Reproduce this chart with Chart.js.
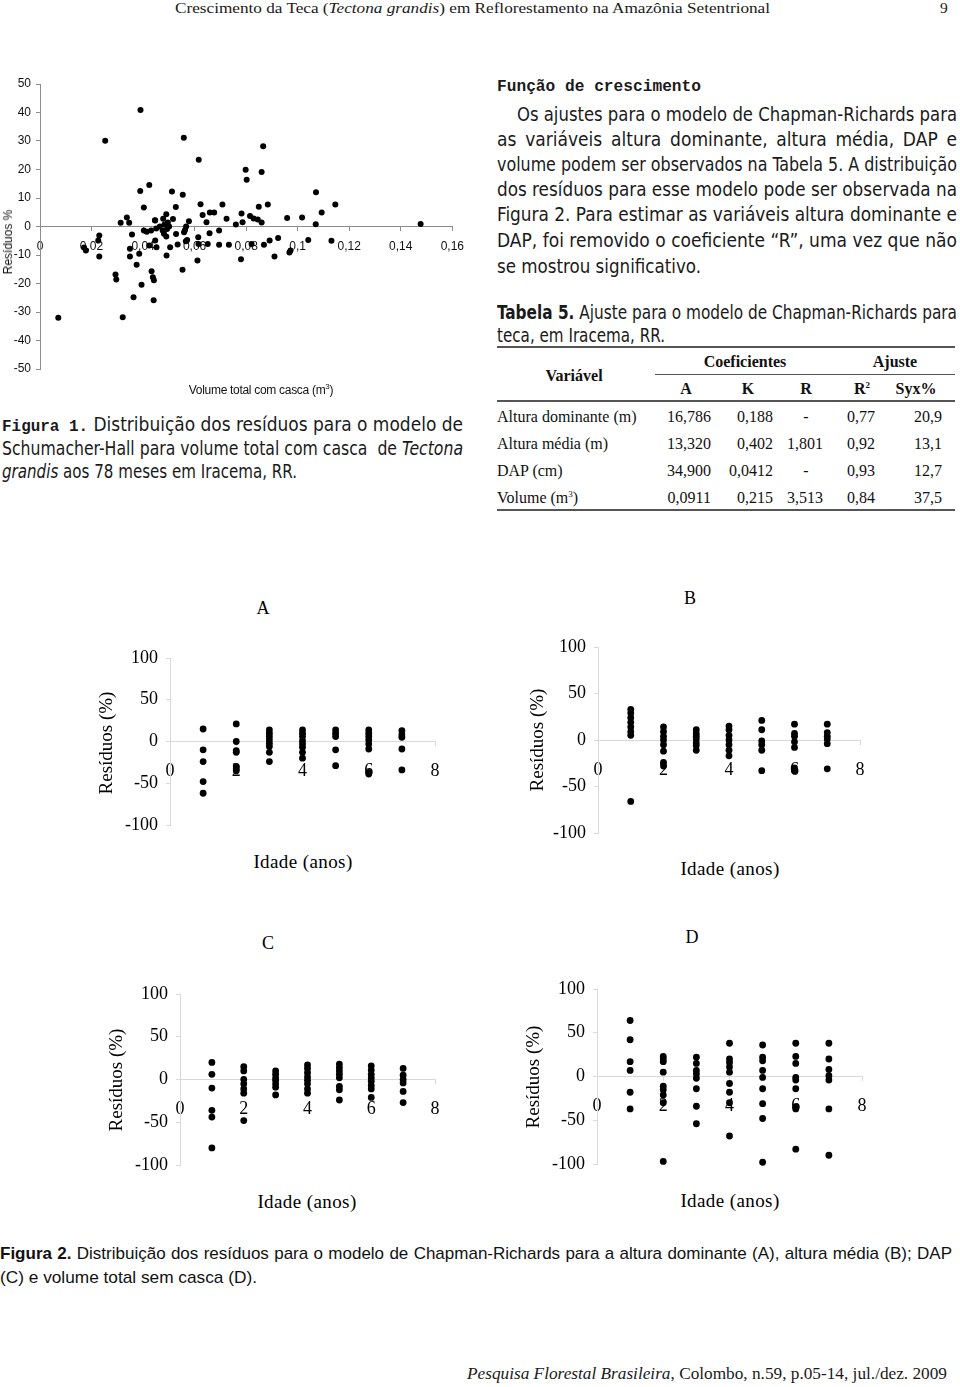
<!DOCTYPE html>
<html lang="pt">
<head>
<meta charset="UTF-8">
<title>Crescimento da Teca - Figuras 1 e 2</title>
<script src="https://cdn.jsdelivr.net/npm/chart.js@4.4.0/dist/chart.umd.min.js"></script>
<style>
    html, body {
        margin: 0;
        padding: 0;
        background: #fff;
    }
    body {
        position: relative;
        width: 960px;
        height: 1387px;
        overflow: hidden;
        color: #1a1a1a;
    }
    canvas { position: absolute; }
    .t {
        position: absolute;
        white-space: nowrap;
        display: inline-block;
        line-height: 1;
        transform-origin: 0 50%;
    }
    .body { font: 19px 'Liberation Sans Narrow', 'DejaVu Sans Condensed', sans-serif; }
    .mono { font-family: 'Liberation Mono', monospace; font-weight: bold; font-size: 16px; }
    .serif { font-family: 'Liberation Serif', serif; }
    .tab { font: 16px 'Liberation Serif', serif; color: #111; }
    .c { transform: translateX(-50%); }
    .r { transform: translateX(-100%); }
    .rot { transform: translate(-50%, -50%) rotate(-90deg); transform-origin: 50% 50%; }
    .rule { position: absolute; height: 1.5px; background: #555; }
    .ax2 { font: 19px 'Liberation Serif', serif; color: #000; }
</style>
</head>
<body>

<!-- cabeçalho -->
<div class="t serif fit" data-w="595" style="left:175px;top:0px;font-size:15.5px">Crescimento da Teca (<i>Tectona grandis</i>) em Reflorestamento na Amazônia Setentrional</div>
<div class="t serif" style="left:940px;top:0px;font-size:15.5px">9</div>

<!-- texto coluna direita -->
<div class="t mono fit" data-w="204" style="left:497px;top:79px">Função de crescimento</div>
<div class="t body fit j" data-w="440" style="left:517px;top:102.5px">Os ajustes para o modelo de Chapman-Richards para</div>
<div class="t body fit j" data-w="460" style="left:497px;top:127.5px">as variáveis altura dominante, altura média, DAP e</div>
<div class="t body fit j" data-w="460" style="left:497px;top:152.5px">volume podem ser observados na Tabela 5. A distribuição</div>
<div class="t body fit j" data-w="460" style="left:497px;top:177.5px">dos resíduos para esse modelo pode ser observada na</div>
<div class="t body fit j" data-w="460" style="left:497px;top:202.5px">Figura 2. Para estimar as variáveis altura dominante e</div>
<div class="t body fit j" data-w="460" style="left:497px;top:228.5px">DAP, foi removido o coeficiente “R”, uma vez que não</div>
<div class="t body fit" data-w="204" style="left:497px;top:254.5px">se mostrou significativo.</div>

<div class="t body fit j" data-w="460" style="left:497px;top:300.5px"><b>Tabela 5.</b> Ajuste para o modelo de Chapman-Richards para</div>
<div class="t body fit" data-w="168" style="left:497px;top:323.5px">teca, em Iracema, RR.</div>

<!-- tabela 5 -->
<div class="rule" style="left:497px;top:346px;width:458px"></div>
<div class="rule" style="left:655px;top:373.5px;width:300px"></div>
<div class="rule" style="left:497px;top:400px;width:458px"></div>
<div class="rule" style="left:497px;top:509px;width:458px"></div>

<div class="t tab c" style="left:745px;top:353px"><b>Coeficientes</b></div>
<div class="t tab c" style="left:895px;top:353px"><b>Ajuste</b></div>
<div class="t tab c" style="left:574px;top:367px"><b>Variável</b></div>
<div class="t tab c" style="left:686px;top:380px"><b>A</b></div>
<div class="t tab c" style="left:748px;top:380px"><b>K</b></div>
<div class="t tab c" style="left:806px;top:380px"><b>R</b></div>
<div class="t tab c" style="left:862px;top:380px"><b>R<sup style="font-size:9px">2</sup></b></div>
<div class="t tab c" style="left:916px;top:380px"><b>Syx%</b></div>

<div class="t tab" style="left:497px;top:408px">Altura dominante (m)</div>
<div class="t tab r" style="left:711px;top:408px">16,786</div>
<div class="t tab r" style="left:773px;top:408px">0,188</div>
<div class="t tab c" style="left:806px;top:408px">-</div>
<div class="t tab c" style="left:861px;top:408px">0,77</div>
<div class="t tab c" style="left:928px;top:408px">20,9</div>

<div class="t tab" style="left:497px;top:435px">Altura média (m)</div>
<div class="t tab r" style="left:711px;top:435px">13,320</div>
<div class="t tab r" style="left:773px;top:435px">0,402</div>
<div class="t tab c" style="left:805px;top:435px">1,801</div>
<div class="t tab c" style="left:861px;top:435px">0,92</div>
<div class="t tab c" style="left:928px;top:435px">13,1</div>

<div class="t tab" style="left:497px;top:462px">DAP (cm)</div>
<div class="t tab r" style="left:711px;top:462px">34,900</div>
<div class="t tab r" style="left:773px;top:462px">0,0412</div>
<div class="t tab c" style="left:806px;top:462px">-</div>
<div class="t tab c" style="left:861px;top:462px">0,93</div>
<div class="t tab c" style="left:928px;top:462px">12,7</div>

<div class="t tab" style="left:497px;top:489px">Volume (m<sup style="font-size:9px">3</sup>)</div>
<div class="t tab r" style="left:711px;top:489px">0,0911</div>
<div class="t tab r" style="left:773px;top:489px">0,215</div>
<div class="t tab c" style="left:805px;top:489px">3,513</div>
<div class="t tab c" style="left:861px;top:489px">0,84</div>
<div class="t tab c" style="left:928px;top:489px">37,5</div>

<!-- figura 1 -->
<canvas id="fig1" width="473" height="325" style="left:0px;top:64px"></canvas>
<div class="t rot" style="left:8px;top:242px;font:12px 'Liberation Sans',sans-serif;color:#111">Resíduos %</div>
<div class="t c" style="left:261px;top:382px;font:12px 'Liberation Sans',sans-serif;color:#111;letter-spacing:-0.3px">Volume total com casca (m<sup style="font-size:8px">3</sup>)</div>

<div class="t body fit j" data-w="461" style="left:2px;top:412.5px"><b class="mono">Figura 1.</b> Distribuição dos resíduos para o modelo de</div>
<div class="t body fit j" data-w="461" style="left:2px;top:436.5px">Schumacher-Hall para volume total com casca&nbsp; de <i>Tectona</i></div>
<div class="t body fit" data-w="295" style="left:2px;top:459.5px"><i>grandis</i> aos 78 meses em Iracema, RR.</div>

<!-- figura 2 -->
<canvas id="figA" width="345" height="207" style="left:110px;top:638px"></canvas>
<canvas id="figB" width="342" height="226" style="left:538px;top:627px"></canvas>
<canvas id="figC" width="335" height="211" style="left:120px;top:974px"></canvas>
<canvas id="figD" width="345" height="215" style="left:537px;top:969px"></canvas>

<div class="t ax2 c" style="left:263px;top:598px;font-size:18px">A</div>
<div class="t ax2 c" style="left:690px;top:588px;font-size:18px">B</div>
<div class="t ax2 c" style="left:268px;top:933px;font-size:18px">C</div>
<div class="t ax2 c" style="left:692px;top:927px;font-size:18px">D</div>

<div class="t ax2 rot" style="left:106px;top:743px">Resíduos (%)</div>
<div class="t ax2 rot" style="left:537px;top:740px">Resíduos (%)</div>
<div class="t ax2 rot" style="left:116px;top:1080px">Resíduos (%)</div>
<div class="t ax2 rot" style="left:533px;top:1077px">Resíduos (%)</div>

<div class="t ax2 c" style="left:303px;top:850.5px;letter-spacing:0.4px">Idade (anos)</div>
<div class="t ax2 c" style="left:730px;top:857.5px;letter-spacing:0.4px">Idade (anos)</div>
<div class="t ax2 c" style="left:307px;top:1190.5px;letter-spacing:0.4px">Idade (anos)</div>
<div class="t ax2 c" style="left:730px;top:1189.5px;letter-spacing:0.4px">Idade (anos)</div>

<div class="t fit j" data-w="952" style="left:0px;top:1243.5px;font:17px 'Liberation Sans',sans-serif;color:#111"><b>Figura 2.</b> Distribuição dos resíduos para o modelo de Chapman-Richards para a altura dominante (A), altura média (B); DAP</div>
<div class="t fit" data-w="257" style="left:0px;top:1267.5px;font:17px 'Liberation Sans',sans-serif;color:#111">(C) e volume total sem casca (D).</div>

<!-- rodapé -->
<div class="t serif fit" data-w="480" style="left:467px;top:1366px;font-size:16px"><i>Pesquisa Florestal Brasileira</i>, Colombo, n.59, p.05-14, jul./dez. 2009</div>

<script>
    // Figura 1: resíduos (%) x volume total com casca (m3)
    const volumes = [
        0.0253, 0.0390, 0.0558, 0.0616, 0.0389, 0.0424, 0.0512, 0.0554, 0.0403, 0.0527,
        0.0623, 0.0708, 0.0313, 0.0337, 0.0346, 0.0446, 0.0490, 0.0478, 0.0516, 0.0578,
        0.0631, 0.0646, 0.0659, 0.0676, 0.0724, 0.0760, 0.0866, 0.0798, 0.0802, 0.0860,
        0.1071, 0.1146, 0.0884, 0.0849, 0.0782, 0.0815, 0.0829, 0.0845, 0.0860, 0.0786,
        0.0959, 0.1017, 0.1093, 0.1070, 0.1477, 0.0447,
        0.0403, 0.0414, 0.0431, 0.0451, 0.0357, 0.0483, 0.0476, 0.0493, 0.0490, 0.0501,
        0.0528, 0.0505, 0.0534, 0.0567, 0.0559, 0.0563, 0.0571, 0.0566, 0.0614, 0.0615,
        0.0611, 0.0658, 0.0651, 0.0695, 0.0695, 0.0733, 0.0780, 0.0869, 0.0891, 0.0910,
        0.0924, 0.0821, 0.1041, 0.1131, 0.0972, 0.0968, 0.0071, 0.0178, 0.0171, 0.0230,
        0.0226, 0.0230, 0.0293, 0.0296, 0.0321, 0.0363, 0.0349, 0.0349, 0.0385, 0.0375,
        0.0394, 0.0433, 0.0438, 0.0442, 0.0441, 0.0491, 0.0553, 0.0452, 0.0424, 0.0447,
        0.0465, 0.0481, 0.0496
    ];
    const residuos = [
        30.1, 40.9, 31.1, 23.4, 12.5, 14.6, 12.3, 11.1, 6.7, 6.8,
        7.8, 7.7, 1.3, 3.2, 1.3, 2.2, 4.3, 2.7, 2.6, 1.8,
        4.0, 1.5, 4.9, 4.9, 2.7, 0.7, 28.2, 19.9, 16.4, 19.1,
        12.0, 7.7, 7.7, 6.9, 4.6, 3.7, 2.8, 2.5, 1.4, 1.5,
        3.0, 3.2, 4.9, 0.8, 0.9, 2.1,
        -1.4, -1.8, -1.4, -0.7, -2.8, 0.7, -1.4, -0.9, -3.5, 0,
        -2.6, -7.3, -6.3, 0, -2.0, -1.2, -4.7, -5.2, -3.8, -6.1,
        -11.9, -2.4, -6.1, -1.4, -6.4, -6.4, -11.5, -6.4, -4.9, -10.5,
        -4.0, -6.1, -4.7, -5.0, -8.4, -9.1, -32.0, -8.4, -7.4, -3.2,
        -4.9, -10.5, -16.8, -18.6, -31.8, -24.8, -10.5, -7.8, -9.6, -13.4,
        -20.4, -15.7, -17.8, -18.9, -25.9, -10.2, -15.2, -7.3, -6.7, -4.9,
        0, -2.5, 1.4
    ];

    // Figura 2: resíduos (%) por idade (anos), um array por idade
    const idades = [1, 2, 3, 4, 5, 6, 7];
    const residA = [
        [15, -10, -24, -48, -62],
        [21, 0, -11, -13, -30, -33, -35],
        [14, 10, 6, 2, -2, -6, -13, -24],
        [14, 10, 6, 1, -3, -7, -13, -20],
        [14, 10, 6, -10, -29],
        [14, 10, 6, 2, -3, -9, -37, -39],
        [13, 8, 5, -9, -34]
    ];
    const residB = [
        [33, 29, 24, 19, 14, 9, 5, -66],
        [14, 9, 4, 0, -5, -12, -24, -28],
        [11, 7, 4, 1, -3, -6, -11],
        [15, 11, 5, 0, -5, -11, -17],
        [21, 11, -1, -5, -11, -33],
        [17, 7, 4, -2, -8, -30, -33],
        [17, 8, 4, 1, -4, -31]
    ];
    const residC = [
        [20, 6, -10, -36, -44, -80],
        [15, 10, 0, -5, -11, -16, -48],
        [10, 6, 2, -1, -5, -9, -18],
        [17, 13, 8, 3, -1, -5, -11, -16],
        [18, 14, 10, 6, 2, -8, -12, -24],
        [16, 11, 6, 2, -2, -7, -11, -21],
        [13, 5, 0, -4, -14, -27]
    ];
    const residD = [
        [64, 42, 17, 7, -18, -37],
        [23, 20, 17, 5, -11, -15, -21, -30, -97],
        [22, 15, 7, 3, -2, -14, -34, -54],
        [38, 20, 16, 11, 5, -8, -18, -30, -68],
        [36, 22, 18, 7, -1, -14, -31, -48, -98],
        [38, 23, 15, -1, -4, -14, -35, -37, -83],
        [38, 20, 8, 1, -4, -37, -90]
    ];

    function toPoints(cols) {
        const pts = [];
        cols.forEach((vals, i) => vals.forEach(v => pts.push({ x: idades[i], y: v })));
        return pts;
    }

    function makeScatter(id, points, o) {
        const axisGrid = { drawOnChartArea: false, drawTicks: true, tickLength: 4, color: o.axisColor };
        const axisBorder = { display: true, color: o.axisColor, width: 1 };
        return new Chart(document.getElementById(id), {
            type: 'scatter',
            data: {
                datasets: [{
                    data: points,
                    backgroundColor: '#000',
                    borderColor: '#000',
                    borderWidth: 0,
                    pointRadius: o.radius,
                    pointHoverRadius: o.radius,
                    clip: false
                }]
            },
            options: {
                responsive: false,
                animation: false,
                layout: { padding: { top: 20, right: 20, bottom: 20, left: 0 } },
                plugins: { legend: { display: false }, tooltip: { enabled: false } },
                scales: {
                    x: {
                        type: 'linear',
                        min: o.xMin, max: o.xMax,
                        position: { y: 0 },
                        border: axisBorder,
                        grid: axisGrid,
                        ticks: {
                            stepSize: o.xStep,
                            autoSkip: false,
                            maxRotation: 0,
                            padding: o.xPad,
                            font: o.font,
                            color: o.color,
                            callback: o.xFmt
                        },
                        afterFit: s => { s.height = 0; }
                    },
                    y: {
                        type: 'linear',
                        min: o.yMin, max: o.yMax,
                        position: 'left',
                        border: axisBorder,
                        grid: axisGrid,
                        ticks: {
                            stepSize: o.yStep,
                            autoSkip: false,
                            padding: o.yPad,
                            font: o.font,
                            color: o.color
                        },
                        afterFit: s => { s.width = o.yWidth; }
                    }
                }
            }
        });
    }

    makeScatter('fig1', volumes.map((v, i) => ({ x: v, y: residuos[i] })), {
        xMin: 0, xMax: 0.16, xStep: 0.02,
        yMin: -50, yMax: 50, yStep: 10,
        yWidth: 40, yPad: 5, xPad: 9,
        radius: 3,
        axisColor: '#8c8c8c',
        color: '#111',
        font: { family: "'Liberation Sans', Arial, sans-serif", size: 12 },
        xFmt: v => String(Math.round(v * 100) / 100).replace('.', ',')
    });

    const fig2 = {
        xMin: 0, xMax: 8, xStep: 2,
        yMin: -100, yMax: 100, yStep: 50,
        yWidth: 60, yPad: 8, xPad: 15,
        radius: 3.4,
        axisColor: '#d9d9d9',
        color: '#000',
        font: { family: "'Liberation Serif', 'Times New Roman', serif", size: 18 },
        xFmt: v => String(v)
    };
    makeScatter('figA', toPoints(residA), fig2);
    makeScatter('figB', toPoints(residB), fig2);
    makeScatter('figC', toPoints(residC), fig2);
    makeScatter('figD', toPoints(residD), fig2);

    // ajusta cada linha de texto a largura medida na pagina original
    document.querySelectorAll('.fit').forEach(el => {
        const target = parseFloat(el.dataset.w);
        const w = el.getBoundingClientRect().width;
        const gaps = (el.textContent.trim().match(/\s+/g) || []).length;
        if (el.classList.contains('j') && w < target && gaps) {
            el.style.wordSpacing = ((target - w) / gaps) + 'px';
        } else {
            el.style.transform = 'scaleX(' + (target / w) + ')';
        }
    });
</script>
</body>
</html>
